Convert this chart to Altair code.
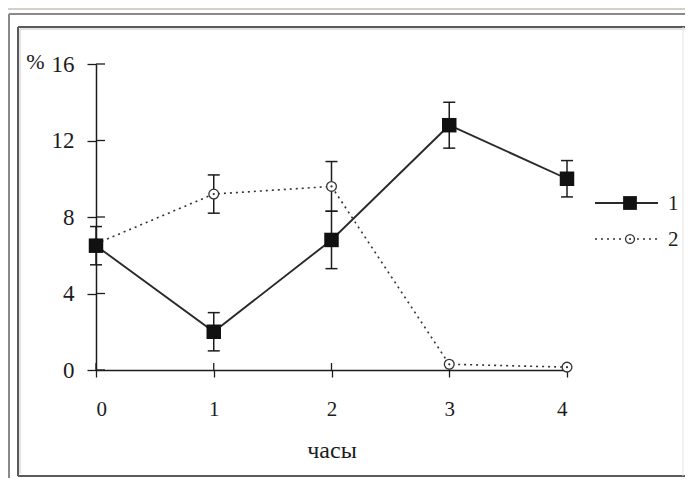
import altair as alt
import pandas as pd

# ---- data ----
hours = [0, 1, 2, 3, 4]
series1 = [6.5, 2.0, 6.8, 12.8, 10.0]
series1_err = [1.0, 1.0, 1.5, 1.2, 0.95]
series2 = [6.6, 9.2, 9.6, 0.3, 0.15]
series2_err = [0.0, 1.0, 1.3, 0.0, 0.0]
y_ticks = [0, 4, 8, 12, 16]
x_ticks = [0, 1, 2, 3, 4]
legend_labels = ["1", "2"]
x_title = "часы"
y_title = "%"

W, H = 471, 306
FONT = "Liberation Serif"
INK = "#1c1c1c"

df1 = pd.DataFrame({"h": hours, "v": series1,
                    "lo": [v - e for v, e in zip(series1, series1_err)],
                    "hi": [v + e for v, e in zip(series1, series1_err)]})
df2 = pd.DataFrame({"h": hours, "v": series2,
                    "lo": [v - e for v, e in zip(series2, series2_err)],
                    "hi": [v + e for v, e in zip(series2, series2_err)]})
df2e = df2[[e > 0 for e in series2_err]]

xs = alt.Scale(domain=[0, 4], nice=False, zero=False)
ys = alt.Scale(domain=[0, 16], nice=False)

X = alt.X("h:Q", scale=xs, axis=alt.Axis(
    values=x_ticks, format="d", title=x_title, grid=False, tickSize=7, labelPadding=21,
    labelFont=FONT, labelFontSize=21, titleFont=FONT,
    titleY=87, titleBaseline="alphabetic", titleFontSize=24, titleFontWeight="normal",
    titleColor=INK))
Y = alt.Y("v:Q", scale=ys, axis=alt.Axis(
    values=y_ticks, format="d", title=y_title, grid=False, tickSize=9, labelPadding=13,
    labelFont=FONT, labelFontSize=23, titleFont=FONT,
    titleAngle=0, titleX=-52, titleY=4, titleAlign="right", titleBaseline="alphabetic",
    titleFontSize=22, titleFontWeight="normal", titleColor=INK))

one = pd.DataFrame({"k": [0]})

def hline(y, x1, x2, color, w):
    return alt.Chart(one).mark_rule(color=color, strokeWidth=w).encode(
        x=alt.value(x1), x2=alt.value(x2), y=alt.value(y))

def vline(x, y1, y2, color, w):
    return alt.Chart(one).mark_rule(color=color, strokeWidth=w).encode(
        y=alt.value(y1), y2=alt.value(y2), x=alt.value(x))

frame = [
    hline(-55, -88, 600, "#d4d0c8", 2),
    hline(-50, -87, 600, "#8a8a8a", 2),
    vline(-87, -50, 420, "#8a8a8a", 2),
    hline(-37, -78, 600, "#5a5a5a", 2),
    hline(-35, -76, 600, "#c8c8c8", 1),
    vline(-78, -37, 412, "#5a5a5a", 2),
    vline(-76, -35, 410, "#c8c8c8", 1),
    hline(412, -78, 600, "#5a5a5a", 2),
    vline(587, -37, 412, "#e4e4e4", 1),
]

in_y = alt.Chart(pd.DataFrame({"t": y_ticks})).mark_rule(color=INK, strokeWidth=1.3).encode(
    y=alt.Y("t:Q", scale=ys), x=alt.value(0), x2=alt.value(9))
in_x = alt.Chart(pd.DataFrame({"t": x_ticks})).mark_rule(color=INK, strokeWidth=1.3).encode(
    x=alt.X("t:Q", scale=xs), y=alt.value(H - 7), y2=alt.value(H))

line2 = alt.Chart(df2).mark_line(color="#333333", strokeWidth=1.6, strokeDash=[2, 4]).encode(x=X, y=Y)
line1 = alt.Chart(df1).mark_line(color="#2a2a2a", strokeWidth=1.9).encode(x=X, y=Y)

def errbars(df):
    r = alt.Chart(df).mark_rule(color=INK, strokeWidth=1.5).encode(
        x=alt.X("h:Q", scale=xs), y=alt.Y("lo:Q", scale=ys), y2="hi:Q")
    cap = alt.Chart(df).mark_point(shape="M-1,0H1", size=144, filled=False,
                                   stroke=INK, strokeWidth=1.5, opacity=1)
    c1 = cap.encode(x=alt.X("h:Q", scale=xs), y=alt.Y("lo:Q", scale=ys))
    c2 = cap.encode(x=alt.X("h:Q", scale=xs), y=alt.Y("hi:Q", scale=ys))
    return [r, c1, c2]

pts2 = alt.Chart(df2).mark_point(shape="circle", size=95, filled=True, fill="white",
                                 stroke="#333333", strokeWidth=1.3, opacity=1).encode(x=X, y=Y)
dots2 = alt.Chart(df2).mark_point(shape="circle", size=5, filled=True, color="#333333",
                                  opacity=1).encode(x=X, y=Y)
pts1 = alt.Chart(df1).mark_point(shape="square", size=210, filled=True, color="#111111",
                                 opacity=1).encode(x=X, y=Y)

# legend
LX1, LX2, LXM, LT = 499, 562, 534, 572
LY = [139, 175]
leg = [
    hline(LY[0], LX1, LX2, "#2a2a2a", 1.9),
    alt.Chart(one).mark_point(shape="square", size=190, filled=True, color="#111111", opacity=1).encode(
        x=alt.value(LXM), y=alt.value(LY[0])),
    alt.Chart(one).mark_rule(color="#333333", strokeWidth=1.6, strokeDash=[2, 4]).encode(
        x=alt.value(LX1), x2=alt.value(LX2), y=alt.value(LY[1])),
    alt.Chart(one).mark_point(shape="circle", size=80, filled=True, fill="white", stroke="#333333",
                              strokeWidth=1.3, opacity=1).encode(x=alt.value(LXM), y=alt.value(LY[1])),
    alt.Chart(one).mark_point(shape="circle", size=5, filled=True, color="#333333", opacity=1).encode(
        x=alt.value(LXM), y=alt.value(LY[1])),
]
for lab, yy in zip(legend_labels, LY):
    leg.append(alt.Chart(one).mark_text(text=lab, font=FONT, fontSize=21, color=INK,
                                        align="left", baseline="middle").encode(
        x=alt.value(LT), y=alt.value(yy + 1)))

layers = frame + [in_y, in_x, line2, line1] + errbars(df1) + errbars(df2e) + [pts2, dots2, pts1] + leg

chart = alt.layer(*layers).properties(
    width=W, height=H,
    autosize=alt.AutoSizeParams(type="none"),
    padding={"left": 88, "top": 56, "right": 118, "bottom": 108},
    background="white",
).configure_view(stroke=None).configure_axis(
    labelFont=FONT, titleFont=FONT, labelColor=INK,
    domainColor=INK, tickColor=INK, domainWidth=1.5, tickWidth=1.3,
)

chart.save("out.html", embed_options={"renderer": "svg", "actions": False})
